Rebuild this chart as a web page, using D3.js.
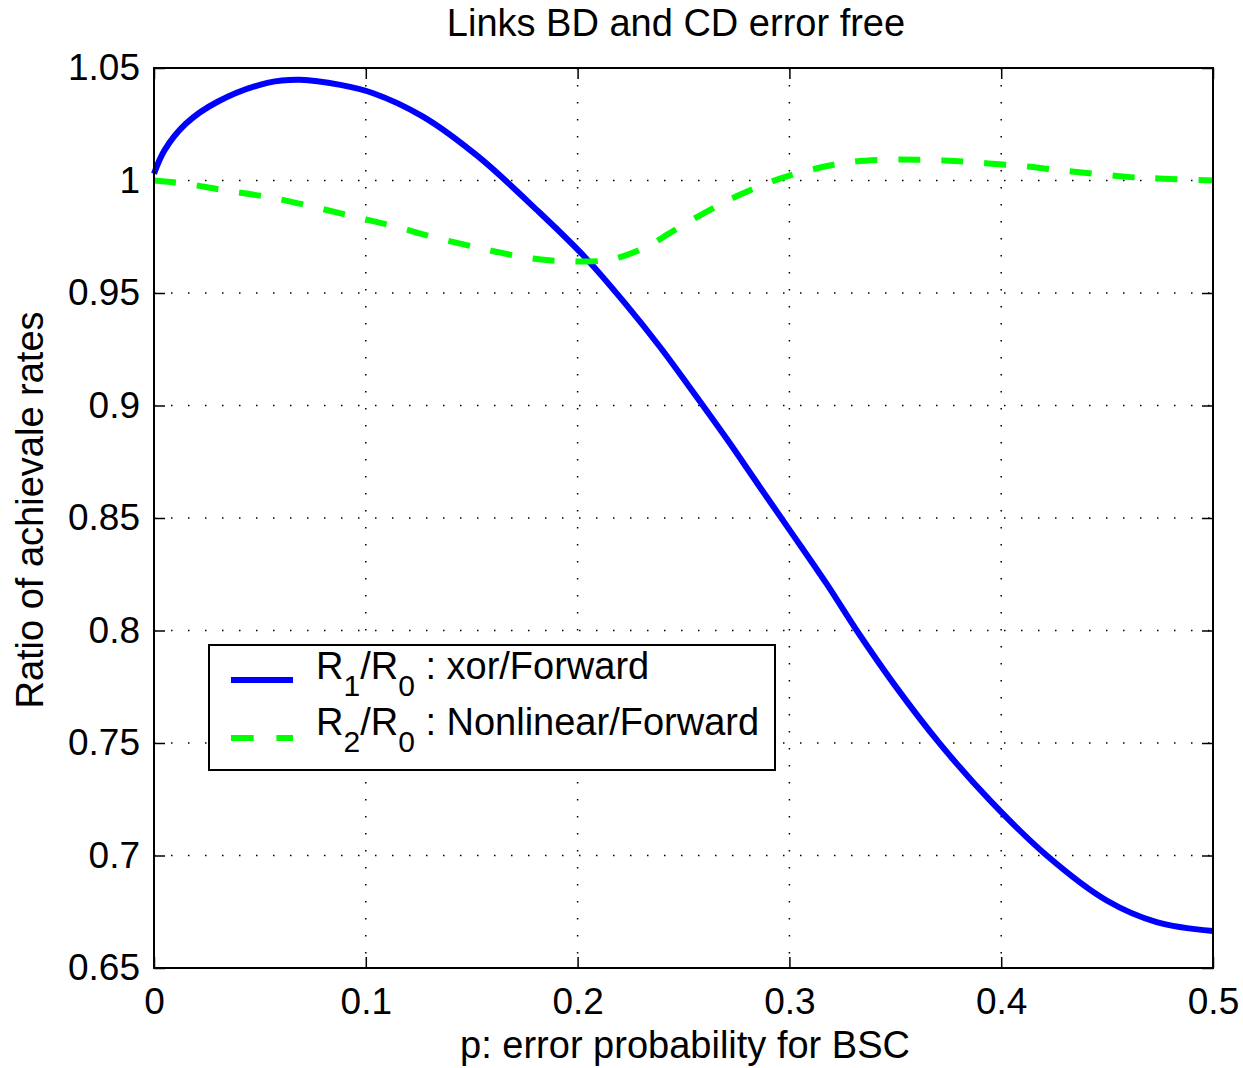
<!DOCTYPE html>
<html>
<head>
<meta charset="utf-8">
<script src="https://cdn.jsdelivr.net/npm/d3@7"></script>
<style>
  body { margin: 0; background: #fff; }
  text { font-family: "Liberation Sans", Arial, Helvetica, sans-serif; fill: #000; }
</style>
</head>
<body>
<div class="chart"></div>
<script>

/** data */
const pXor = [0, 0.005, 0.015, 0.03, 0.054, 0.069, 0.088, 0.1035, 0.127, 0.153,
              0.181, 0.2035, 0.2232, 0.239, 0.2523, 0.2704, 0.2861, 0.3003, 0.3176,
              0.3318, 0.3499, 0.3711, 0.3947, 0.4215, 0.4498, 0.4734, 0.5];
const ratioXor = [1.003, 1.0135, 1.0252, 1.035, 1.0435, 1.0448, 1.0425, 1.0388, 1.0284, 1.0107,
                  0.9867, 0.9659, 0.9445, 0.9259, 0.9089, 0.8852, 0.8637, 0.8444, 0.8207,
                  0.80, 0.7755, 0.7496, 0.7245, 0.70, 0.68, 0.6704, 0.6664];

const pNonlin = [0, 0.0156, 0.031, 0.056, 0.081, 0.1, 0.115, 0.13, 0.154, 0.178,
                 0.196, 0.213, 0.224, 0.234, 0.245, 0.261, 0.275, 0.29, 0.3, 0.3125,
                 0.327, 0.345, 0.362, 0.378, 0.394, 0.412, 0.428, 0.444, 0.461, 0.477, 0.5];
const ratioNonlin = [1.0, 0.9985, 0.996, 0.9923, 0.987, 0.9827, 0.9793, 0.9753, 0.9699, 0.9654,
                     0.9641, 0.9645, 0.9672, 0.9712, 0.9775, 0.9862, 0.993, 0.999, 1.0022, 1.0053,
                     1.008, 1.0092, 1.0092, 1.0087, 1.0076, 1.0062, 1.0045, 1.003, 1.0015, 1.0008, 1.0];

const xTicks = [0, 0.1, 0.2, 0.3, 0.4, 0.5];
const yTicks = [0.65, 0.7, 0.75, 0.8, 0.85, 0.9, 0.95, 1, 1.05];

const titleText = 'Links BD and CD error free';
const xLabelText = 'p: error probability for BSC';
const yLabelText = 'Ratio of achievale rates';

/** set up canvas */
let width = 1243, height = 1068;
let margin = {left: 154, top: 68};
let plotW = 1059, plotH = 900;

let svg = d3.select('.chart').append('svg')
    .attr('width', width)
    .attr('height', height);

let plot = svg.append('g')
    .attr('transform', `translate(${margin.left}, ${margin.top})`);

let x = d3.scaleLinear().domain([0, 0.5]).range([0, plotW]);
let y = d3.scaleLinear().domain([0.65, 1.05]).range([plotH, 0]);

/** dotted grid */
plot.append('g')
    .selectAll('line')
    .data(xTicks.slice(1, -1))
    .enter()
    .append('line')
    .attr('x1', d => x(d)).attr('x2', d => x(d))
    .attr('y1', 0).attr('y2', plotH)
    .style('stroke', '#000')
    .style('stroke-width', 1.5)
    .style('stroke-dasharray', '1.5,15.5');

plot.append('g')
    .selectAll('line')
    .data(yTicks.slice(1, -1))
    .enter()
    .append('line')
    .attr('x1', 0).attr('x2', plotW)
    .attr('y1', d => y(d)).attr('y2', d => y(d))
    .style('stroke', '#000')
    .style('stroke-width', 1.5)
    .style('stroke-dasharray', '1.5,15.5');

/** axes with inward ticks on all four sides */
let fmt = d => String(+d.toFixed(2));

plot.append('g')
    .attr('transform', `translate(0, ${plotH})`)
    .call(d3.axisBottom(x).tickValues(xTicks).tickFormat(fmt).tickSize(-11).tickPadding(20));
plot.append('g')
    .call(d3.axisTop(x).tickValues(xTicks).tickFormat('').tickSize(-11));
plot.append('g')
    .call(d3.axisLeft(y).tickValues(yTicks).tickFormat(fmt).tickSize(-11).tickPadding(14));
plot.append('g')
    .attr('transform', `translate(${plotW}, 0)`)
    .call(d3.axisRight(y).tickValues(yTicks).tickFormat('').tickSize(-11));

plot.selectAll('.domain').remove();
plot.selectAll('.tick line')
    .style('stroke', '#000')
    .style('stroke-width', 1.5);
plot.selectAll('.tick text')
    .style('font-family', '"Liberation Sans", Arial, sans-serif')
    .style('font-size', '37px')
    .style('fill', '#000');

/** curves */
let lineGen = d3.line()
    .x(d => x(d[0]))
    .y(d => y(d[1]))
    .curve(d3.curveCatmullRom.alpha(0.5));

plot.append('path')
    .datum(pXor.map((p, i) => [p, ratioXor[i]]))
    .attr('d', lineGen)
    .style('fill', 'none')
    .style('stroke', '#0000ff')
    .style('stroke-width', 6);

plot.append('path')
    .datum(pNonlin.map((p, i) => [p, ratioNonlin[i]]))
    .attr('d', lineGen)
    .style('fill', 'none')
    .style('stroke', '#00ff00')
    .style('stroke-width', 6)
    .style('stroke-dasharray', '22,21');

/** box */
plot.append('rect')
    .attr('x', 0).attr('y', 0)
    .attr('width', plotW).attr('height', plotH)
    .style('fill', 'none')
    .style('stroke', '#000')
    .style('stroke-width', 2);

/** titles */
svg.append('text')
    .attr('x', 676)
    .attr('y', 36)
    .attr('text-anchor', 'middle')
    .style('font-size', '38px')
    .text(titleText);

svg.append('text')
    .attr('x', 685)
    .attr('y', 1058)
    .attr('text-anchor', 'middle')
    .style('font-size', '38px')
    .text(xLabelText);

svg.append('text')
    .attr('transform', 'translate(43, 510) rotate(-90)')
    .attr('text-anchor', 'middle')
    .style('font-size', '38px')
    .text(yLabelText);

/** legend */
let legend = svg.append('g');
legend.append('rect')
    .attr('x', 209).attr('y', 645)
    .attr('width', 566).attr('height', 125)
    .style('fill', '#fff')
    .style('stroke', '#000')
    .style('stroke-width', 2);

const legendRows = [
    {sub: '1', label: ' : xor/Forward', color: '#0000ff', dash: null, y: 680, base: 679},
    {sub: '2', label: ' : Nonlinear/Forward', color: '#00ff00', dash: '22.7,22.7', y: 738, base: 735}
];

legendRows.forEach(function (r) {
    legend.append('line')
        .attr('x1', 231).attr('x2', 293)
        .attr('y1', r.y).attr('y2', r.y)
        .style('stroke', r.color)
        .style('stroke-width', 6)
        .style('stroke-dasharray', r.dash);

    let t = legend.append('text')
        .attr('x', 316)
        .attr('y', r.base)
        .style('font-size', '38px');
    t.append('tspan').text('R');
    t.append('tspan').attr('dy', 17).style('font-size', '30px').text(r.sub);
    t.append('tspan').attr('dy', -17).text('/R');
    t.append('tspan').attr('dy', 17).style('font-size', '30px').text('0');
    t.append('tspan').attr('dy', -17).text(r.label);
});

</script>
</body>
</html>
